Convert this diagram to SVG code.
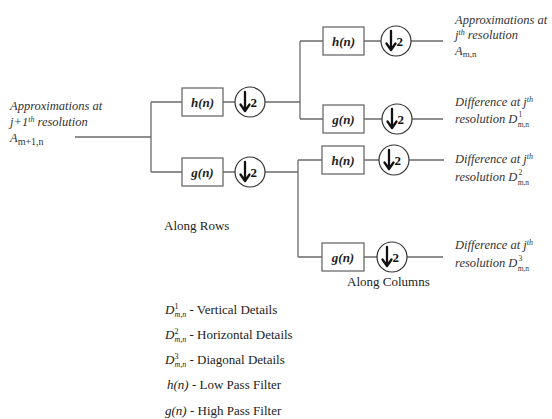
<svg xmlns="http://www.w3.org/2000/svg" width="552" height="419" viewBox="0 0 552 419">
<style>
.ln{stroke:#6b6b6b;stroke-width:1.3;fill:none}
.box{fill:#fff;stroke:#6b6b6b;stroke-width:1.3}
.cir{fill:#fff;stroke:#333;stroke-width:1.2}
.bl{font-family:"Liberation Serif",serif;font-style:italic;font-weight:bold;font-size:13px;fill:#222;text-anchor:middle}
.two{font-family:"Liberation Serif",serif;font-weight:bold;font-size:13px;fill:#111}
.arr{stroke:#111;stroke-width:2.3;fill:none;stroke-linecap:round;stroke-linejoin:round}
.lab{font-family:"Liberation Serif",serif;font-style:italic;font-size:12.5px;fill:#333}
.sub{font-size:8px}
.ss{font-size:7.5px;font-style:normal}
.leg{font-family:"Liberation Serif",serif;font-size:13px;fill:#222}
</style>
<defs>
<g id="down">
<circle class="cir" cx="0" cy="0" r="15"/>
<path class="arr" d="M-5,-10 V8 M-9.5,2.5 L-5,9 L-0.5,2.5"/>
<text class="two" x="0.5" y="5">2</text>
</g>
</defs>
<rect width="552" height="419" fill="#fff"/>
<g id="connectors">
<path class="ln" d="M75,137 H151 M151,102 V172 M151,102 H182 M151,172 H182"/>
<path class="ln" d="M223,102 H235 M265,102 H300 M300,41 V119 M300,41 H323 M300,119 H323"/>
<path class="ln" d="M223,172 H235 M265,172 H298 M298,160 V257 M298,160 H322 M298,257 H322"/>
<path class="ln" d="M364,41 H381 M411,41 H443 M364,119 H382 M412,119 H443 M364,160 H379 M409,160 H444 M364,257 H377 M407,257 H443"/>
</g>
<g id="h1"><rect class="box" x="182" y="88" width="41" height="28"/><text class="bl" x="202.5" y="107">h(n)</text></g>
<g id="d1"><use href="#down" x="250" y="102"/></g>
<g id="g1"><rect class="box" x="182" y="158" width="41" height="28"/><text class="bl" x="202.5" y="177">g(n)</text></g>
<g id="d2"><use href="#down" x="250" y="172"/></g>
<g id="h2"><rect class="box" x="323" y="27" width="41" height="28"/><text class="bl" x="343.5" y="46">h(n)</text></g>
<g id="d3"><use href="#down" x="396" y="41"/></g>
<g id="g2"><rect class="box" x="323" y="105" width="41" height="28"/><text class="bl" x="343.5" y="124">g(n)</text></g>
<g id="d4"><use href="#down" x="397" y="119"/></g>
<g id="h3"><rect class="box" x="322" y="146" width="42" height="28"/><text class="bl" x="343" y="165">h(n)</text></g>
<g id="d5"><use href="#down" x="394" y="160"/></g>
<g id="g3"><rect class="box" x="322" y="243" width="42" height="28"/><text class="bl" x="343" y="262">g(n)</text></g>
<g id="d6"><use href="#down" x="392" y="257"/></g>
<g id="input">
<text class="lab" x="10" y="110">Approximations at</text>
<text class="lab" x="10" y="126">j+1<tspan class="sub" dy="-4">th</tspan><tspan dy="4"> resolution</tspan></text>
<text class="lab" x="10" y="142">A<tspan dy="3" font-size="10" font-style="normal">m+1,n</tspan></text>
</g>
<g id="out1">
<text class="lab" x="455" y="24">Approximations at</text>
<text class="lab" x="455" y="39">j<tspan class="sub" dy="-4">th</tspan><tspan dy="4"> resolution</tspan></text>
<text class="lab" x="455" y="55">A<tspan dy="2" font-style="normal" font-size="9">m,n</tspan></text>
</g>
<g id="out2">
<text class="lab" x="455" y="106">Difference at j<tspan class="sub" dy="-4">th</tspan></text>
<text class="lab" x="455" y="123">resolution  D<tspan class="ss" dx="1" dy="-6">1</tspan><tspan class="ss" dx="-4.5" dy="10">m,n</tspan></text>
</g>
<g id="out3">
<text class="lab" x="455" y="163">Difference at j<tspan class="sub" dy="-4">th</tspan></text>
<text class="lab" x="455" y="181">resolution D<tspan class="ss" dx="1" dy="-6">2</tspan><tspan class="ss" dx="-4.5" dy="10">m,n</tspan></text>
</g>
<g id="out4">
<text class="lab" x="455" y="249">Difference at j<tspan class="sub" dy="-4">th</tspan></text>
<text class="lab" x="455" y="267">resolution D<tspan class="ss" dx="1" dy="-6">3</tspan><tspan class="ss" dx="-4.5" dy="10">m,n</tspan></text>
</g>
<text class="leg" x="164" y="230">Along Rows</text>
<text class="leg" x="347" y="286">Along Columns</text>
<g id="legend">
<text class="leg" x="165" y="314"><tspan font-style="italic">D</tspan><tspan font-size="8" dy="-5">1</tspan><tspan font-size="8" font-style="italic" dx="-4" dy="8">m,n</tspan><tspan dy="-3"> - Vertical Details</tspan></text>
<text class="leg" x="165" y="339"><tspan font-style="italic">D</tspan><tspan font-size="8" dy="-5">2</tspan><tspan font-size="8" font-style="italic" dx="-4" dy="8">m,n</tspan><tspan dy="-3"> - Horizontal Details</tspan></text>
<text class="leg" x="165" y="364"><tspan font-style="italic">D</tspan><tspan font-size="8" dy="-5">3</tspan><tspan font-size="8" font-style="italic" dx="-4" dy="8">m,n</tspan><tspan dy="-3"> - Diagonal Details</tspan></text>
<text class="leg" x="167" y="389"><tspan font-style="italic">h(n)</tspan>  - Low Pass Filter</text>
<text class="leg" x="165" y="415"><tspan font-style="italic">g(n)</tspan>  - High Pass Filter</text>
</g>
</svg>
